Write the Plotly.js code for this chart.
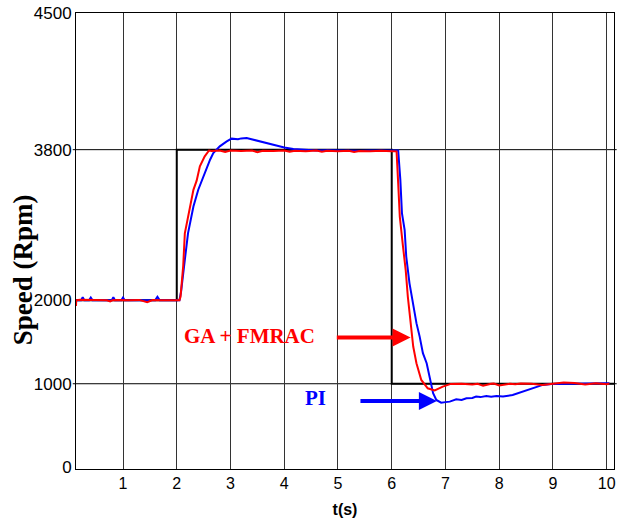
<!DOCTYPE html>
<html>
<head>
<meta charset="utf-8">
<script src="https://cdn.plot.ly/plotly-3.0.1.min.js"></script>
<style>html,body{margin:0;padding:0;background:#fff;}#chart{width:619px;height:520px;}</style>
</head>
<body>
<div id="chart"></div>
<script>
// Reference speed (black step)
const tRef = [0.125, 2.0, 2.0, 6.0, 6.0, 10.136];
const speedRef = [2000, 2000, 3800, 3800, 1000, 1000];

// GA + FMRAC response (red)
const tGa = [0.125, 0.13, 0.2, 0.35, 0.5, 0.7, 0.76, 0.8, 0.9, 1.1, 1.3, 1.45, 1.5, 1.55, 1.7, 1.9, 2.05,
  2.07, 2.10, 2.12, 2.15, 2.2, 2.25, 2.31, 2.37, 2.43, 2.52, 2.60, 2.65, 2.8, 2.9, 3.0, 3.2, 3.4, 3.5, 3.6,
  3.8, 4.0, 4.1, 4.2, 4.4, 4.6, 4.7, 4.8, 5.0, 5.2, 5.3, 5.4, 5.6, 5.8, 6.0, 6.09, 6.12, 6.15, 6.21, 6.26,
  6.30, 6.35, 6.40, 6.46, 6.55, 6.67, 6.80, 6.95, 7.1, 7.3, 7.5, 7.6, 7.7, 7.85, 7.9, 8.0, 8.2, 8.3, 8.4,
  8.6, 8.8, 9.0, 9.1, 9.2, 9.4, 9.5, 9.6, 9.8, 10.0, 10.05];
const speedGa = [1930, 2000, 2005, 2000, 2003, 1998, 1985, 1998, 2002, 2000, 2003, 1975, 1990, 2002, 2000, 2002, 2000,
  2040, 2250, 2410, 2800, 2950, 3120, 3320, 3430, 3600, 3720, 3790, 3785, 3790, 3772, 3790, 3785, 3790, 3770, 3788,
  3785, 3790, 3775, 3788, 3782, 3790, 3776, 3786, 3780, 3788, 3772, 3784, 3780, 3786, 3782, 3780, 3400, 3000, 2640, 2360,
  2040, 1725, 1445, 1245, 1045, 945, 920, 965, 998, 1000, 990, 1000, 975, 1000, 1002, 980, 1000, 995, 1003, 1000,
  985, 1000, 1003, 1015, 1010, 1000, 990, 1005, 995, 1002, 1000];

// PI response (blue)
const tPi = [0.125, 0.22, 0.25, 0.28, 0.37, 0.40, 0.43, 0.79, 0.82, 0.85, 0.97, 1.0, 1.03, 1.6, 1.64, 1.68, 1.9, 2.05,
  2.08, 2.12, 2.15, 2.21, 2.31, 2.40, 2.52, 2.62, 2.68, 2.80, 2.93, 3.02, 3.14, 3.2, 3.30, 3.42, 3.61, 3.79,
  3.92, 4.0, 4.17, 4.4, 4.6, 4.8, 5.0, 5.2, 5.4, 5.6, 5.8, 6.0, 6.12, 6.16, 6.19, 6.24, 6.27, 6.33, 6.40,
  6.46, 6.52, 6.58, 6.65, 6.71, 6.77, 6.83, 6.92, 7.0, 7.08, 7.20, 7.3, 7.39, 7.5, 7.57, 7.65, 7.76, 7.85,
  7.95, 8.07, 8.25, 8.44, 8.63, 8.81, 8.97, 9.2, 9.5, 9.8, 10.05];
const speedPi = [2000, 2000, 2035, 2000, 2000, 2030, 2000, 2000, 2035, 2000, 2000, 2030, 2000, 2000, 2040, 2000, 2000, 2000,
  2100, 2350, 2483, 2802, 3121, 3321, 3521, 3680, 3760, 3840, 3899, 3932, 3925, 3935, 3940, 3920, 3887, 3860,
  3840, 3825, 3808, 3795, 3790, 3792, 3788, 3790, 3786, 3790, 3788, 3790, 3790, 3441, 3042, 2842, 2522, 2204, 1923,
  1725, 1564, 1365, 1246, 1085, 886, 806, 774, 780, 786, 814, 805, 826, 830, 846, 840, 854, 845,
  854, 846, 866, 905, 946, 986, 998, 1000, 995, 1002, 1005];

// Axis ticks
const xTickVals = [1, 2, 3, 4, 5, 6, 7, 8, 9, 10];
const yTickVals = [0, 1000, 2000, 3800, 5430];
const yTickText = ['0', '1000', '2000', '3800', '4500'];
const yGridVals = [1000, 3800];

// Labels
const xTitle = 't(s)';
const yTitle = 'Speed (Rpm)';
const gaLabel = 'GA + FMRAC';
const piLabel = 'PI';

const traces = [
  {x: tRef, y: speedRef, type: 'scatter', mode: 'lines', name: 'Reference',
   line: {color: '#000000', width: 2}},
  {x: tPi, y: speedPi, type: 'scatter', mode: 'lines', name: piLabel,
   line: {color: '#0000ff', width: 2}},
  {x: tGa, y: speedGa, type: 'scatter', mode: 'lines', name: gaLabel,
   line: {color: '#ff0000', width: 2}}
];

const shapes = yGridVals.map(v => ({
  type: 'line', xref: 'paper', yref: 'y', x0: -0.006, x1: 1.005, y0: v, y1: v,
  layer: 'below', line: {color: '#000000', width: 1}
}));

const layout = {
  width: 619, height: 520,
  margin: {l: 76, r: 5, t: 13, b: 51, pad: 0},
  paper_bgcolor: '#ffffff', plot_bgcolor: '#ffffff',
  showlegend: false,
  xaxis: {
    range: [0.125, 10.136], tickvals: xTickVals, ticks: '',
    showgrid: true, gridcolor: '#333333', gridwidth: 1, zeroline: false,
    showline: true, mirror: true, linecolor: '#000000', linewidth: 1,
    tickfont: {family: 'Liberation Sans, Arial, sans-serif', size: 16, color: '#000000'},
    title: {text: xTitle, standoff: 12,
      font: {family: 'Liberation Sans, Arial, sans-serif', size: 16, color: '#000000', weight: 'bold'}}
  },
  yaxis: {
    range: [-20, 5435], tickvals: yTickVals, ticktext: yTickText, ticks: '',
    showgrid: false, zeroline: false,
    showline: true, mirror: true, linecolor: '#000000', linewidth: 1,
    tickfont: {family: 'Liberation Sans, Arial, sans-serif', size: 17, color: '#000000'}
  },
  shapes: shapes,
  annotations: [
    {xref: 'paper', yref: 'paper', x: -0.0985, y: 0.436, xanchor: 'center', yanchor: 'middle',
     textangle: -90, showarrow: false, text: '<b>' + yTitle + '</b>',
     font: {family: 'Liberation Serif, Times New Roman, serif', size: 27, color: '#000000'}},
    {xref: 'x', yref: 'y', x: 3.36, y: 1576, xanchor: 'center', yanchor: 'middle', showarrow: false,
     text: '<b>' + gaLabel + '</b>',
     font: {family: 'Liberation Serif, Times New Roman, serif', size: 21, color: '#ff0000'}},
    {xref: 'x', yref: 'y', x: 6.35, y: 1552, axref: 'x', ayref: 'y', ax: 4.95, ay: 1552, text: '',
     showarrow: true, arrowhead: 2, arrowsize: 0.9, arrowwidth: 4, arrowcolor: '#ff0000', standoff: 0},
    {xref: 'x', yref: 'y', x: 4.59, y: 830, xanchor: 'center', yanchor: 'middle', showarrow: false,
     text: '<b>' + piLabel + '</b>',
     font: {family: 'Liberation Serif, Times New Roman, serif', size: 21, color: '#0000ff'}},
    {xref: 'x', yref: 'y', x: 6.84, y: 794, axref: 'x', ayref: 'y', ax: 5.39, ay: 794, text: '',
     showarrow: true, arrowhead: 2, arrowsize: 0.9, arrowwidth: 4, arrowcolor: '#0000ff', standoff: 0}
  ]
};

Plotly.newPlot('chart', traces, layout, {displayModeBar: false, staticPlot: true});
</script>
</body>
</html>
